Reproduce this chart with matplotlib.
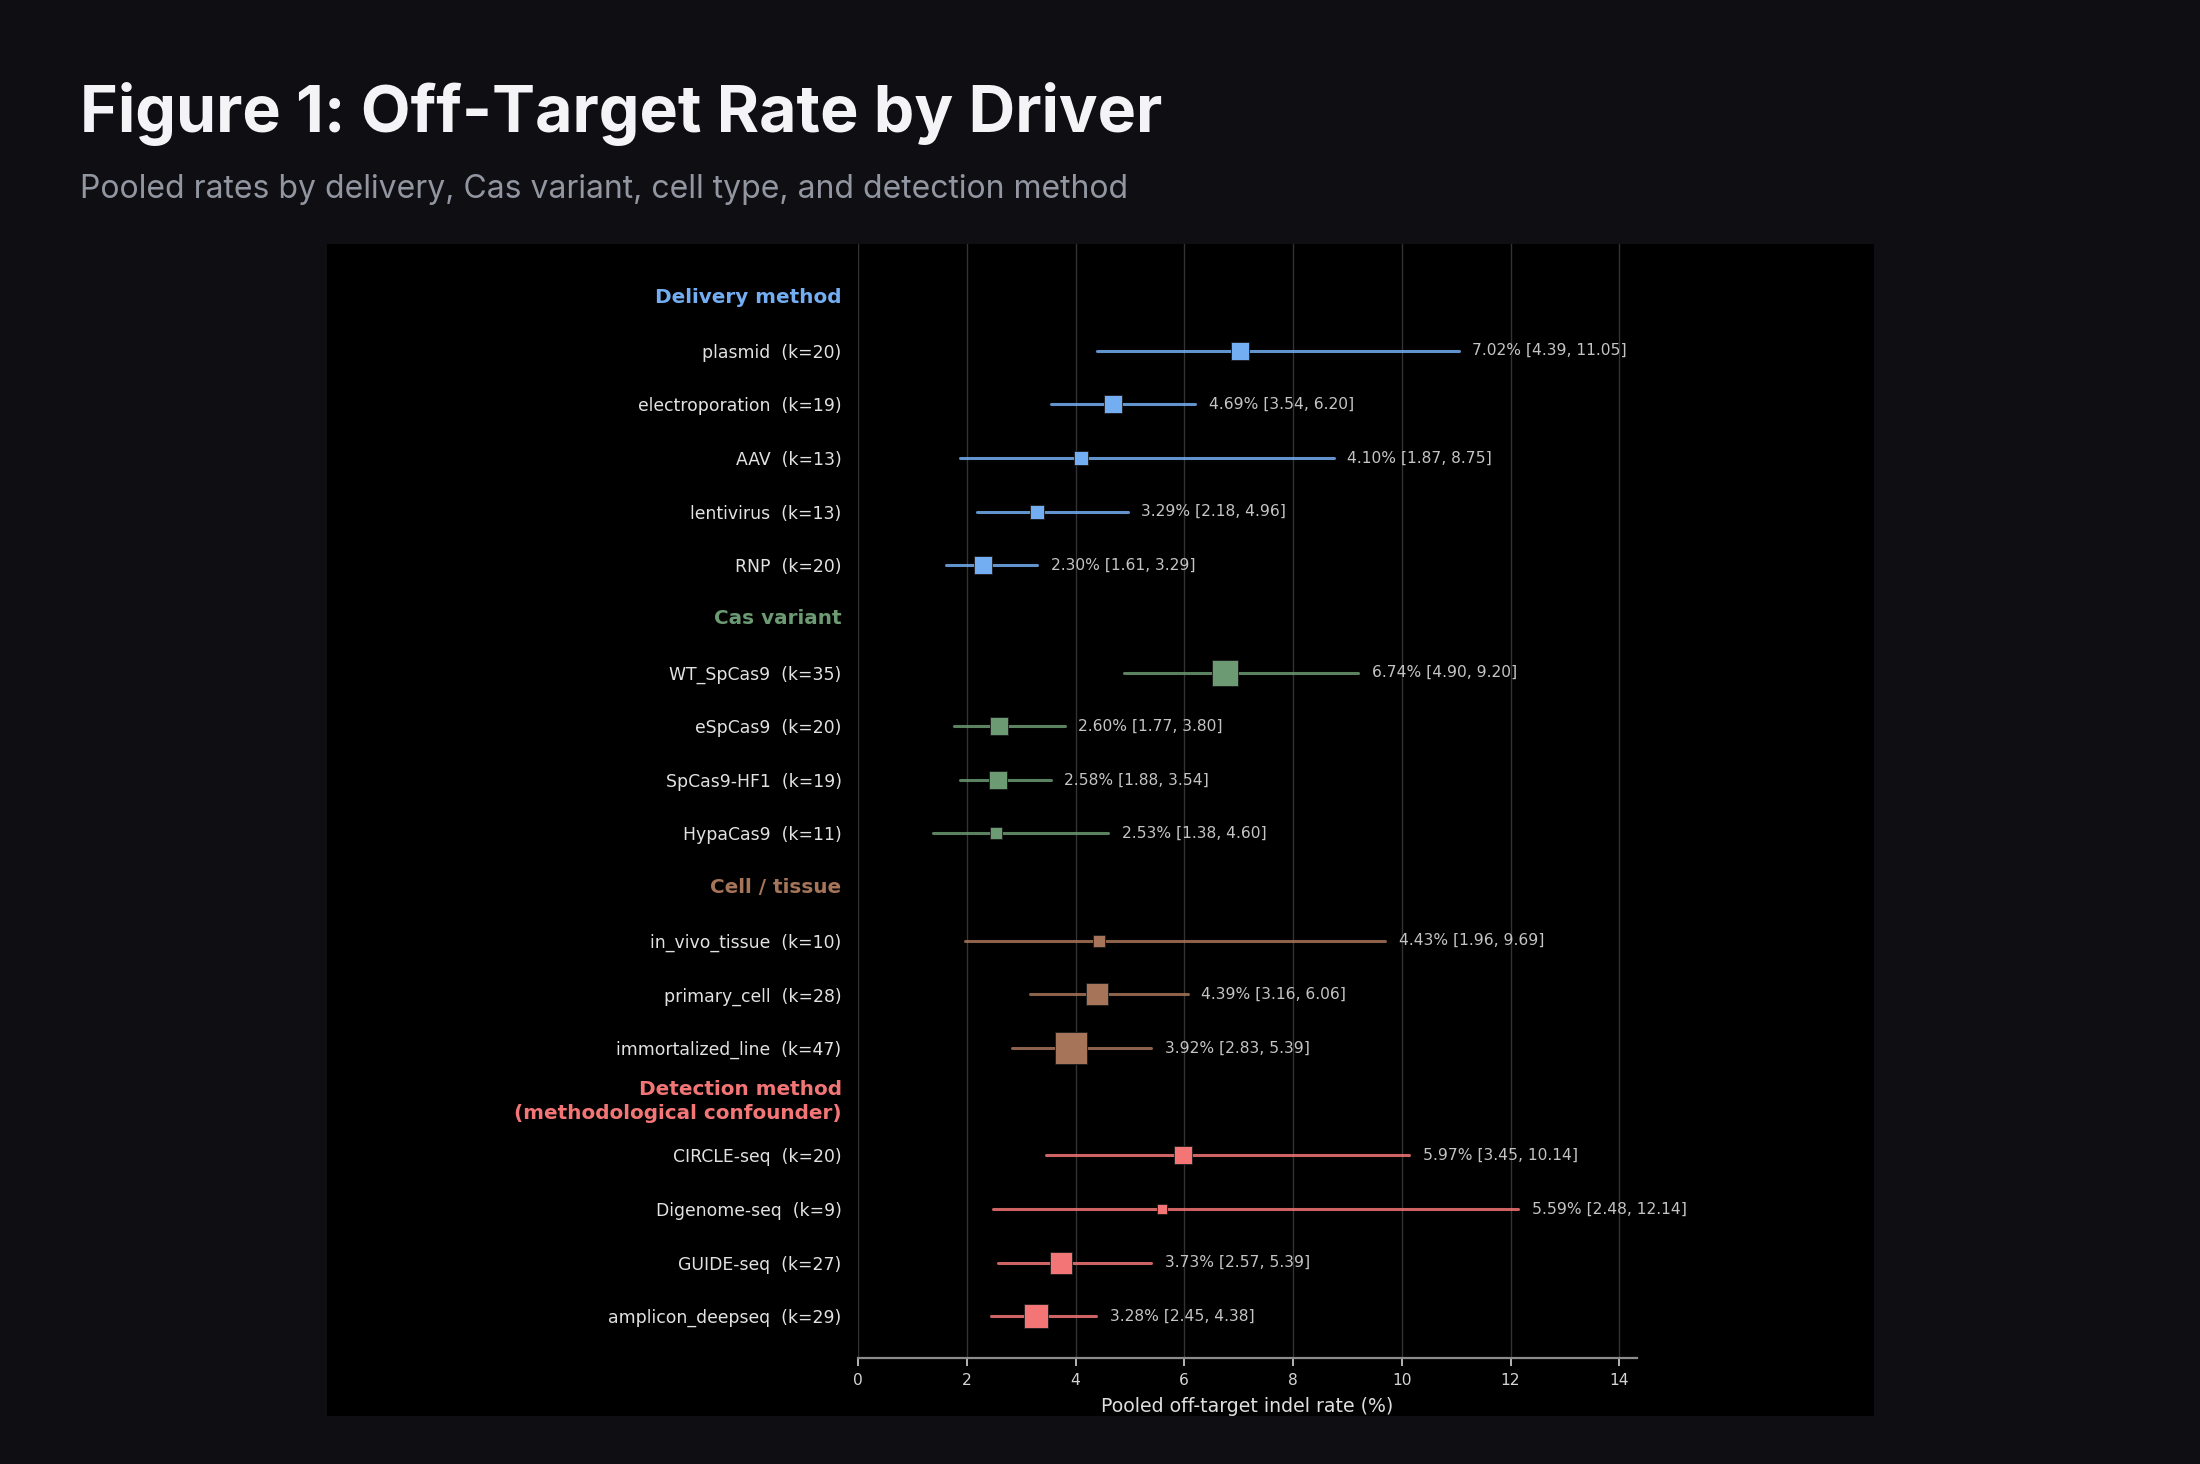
import matplotlib
matplotlib.use('Agg')
import matplotlib.pyplot as plt
from matplotlib.patches import Rectangle
from matplotlib.transforms import Bbox, TransformedBbox
import numpy as np

# ---------------- data ----------------
group_names = ["Delivery method", "Cas variant", "Cell / tissue",
               "Detection method\n(methodological confounder)"]
group_colors = ['#74aef2', '#6c9a72', '#a67459', '#f47575']

delivery_labels = ["plasmid", "electroporation", "AAV", "lentivirus", "RNP"]
delivery_k = [20, 19, 13, 13, 20]
delivery_est = [7.02, 4.69, 4.10, 3.29, 2.30]
delivery_lo = [4.39, 3.54, 1.87, 2.18, 1.61]
delivery_hi = [11.05, 6.20, 8.75, 4.96, 3.29]

cas_labels = ["WT_SpCas9", "eSpCas9", "SpCas9-HF1", "HypaCas9"]
cas_k = [35, 20, 19, 11]
cas_est = [6.74, 2.60, 2.58, 2.53]
cas_lo = [4.90, 1.77, 1.88, 1.38]
cas_hi = [9.20, 3.80, 3.54, 4.60]

cell_labels = ["in_vivo_tissue", "primary_cell", "immortalized_line"]
cell_k = [10, 28, 47]
cell_est = [4.43, 4.39, 3.92]
cell_lo = [1.96, 3.16, 2.83]
cell_hi = [9.69, 6.06, 5.39]

det_labels = ["CIRCLE-seq", "Digenome-seq", "GUIDE-seq", "amplicon_deepseq"]
det_k = [20, 9, 27, 29]
det_est = [5.97, 5.59, 3.73, 3.28]
det_lo = [3.45, 2.48, 2.57, 2.45]
det_hi = [10.14, 12.14, 5.39, 4.38]

x_ticks = [0, 2, 4, 6, 8, 10, 12, 14]
x_label = "Pooled off-target indel rate (%)"
title = "Figure 1: Off-Target Rate by Driver"
subtitle = "Pooled rates by delivery, Cas variant, cell type, and detection method"

groups = [
    (delivery_labels, delivery_k, delivery_est, delivery_lo, delivery_hi),
    (cas_labels, cas_k, cas_est, cas_lo, cas_hi),
    (cell_labels, cell_k, cell_est, cell_lo, cell_hi),
    (det_labels, det_k, det_est, det_lo, det_hi),
]

# ---------------- figure ----------------
W, H = 2200, 1464
BG = '#0e0e13'
fig = plt.figure(figsize=(W / 100, H / 100), dpi=100, facecolor=BG)

fig.text(80 / W, 1 - 132 / H, title, fontsize=46.5, fontweight='bold',
         family=['Inter', 'DejaVu Sans'], color='#f4f4f6', va='baseline', ha='left')
fig.text(80 / W, 1 - 198 / H, subtitle, fontsize=23.0,
         family=['Inter', 'DejaVu Sans'], color='#9296a1', va='baseline', ha='left')

# chart panel
px0, px1, py0, py1 = 327, 1874, 244, 1416
panel = Rectangle((px0 / W, 1 - py1 / H), (px1 - px0) / W, (py1 - py0) / H,
                  transform=fig.transFigure, facecolor='black', edgecolor='none', zorder=-5)
fig.patches.append(panel)

ax_l, ax_r, ax_t, ax_b = 858, 1637, 244, 1358
ax = fig.add_axes([ax_l / W, 1 - ax_b / H, (ax_r - ax_l) / W, (ax_b - ax_t) / H])
ax.set_zorder(1)
ax.set_facecolor('black')

all_hi = [h for g in groups for h in g[4]]
ax.set_xlim(0, max(all_hi) * 1.18)

ytick_pos, ytick_lab, ytick_style = [], [], []
row = 0
for gi, (labels, ks, est, lo, hi) in enumerate(groups):
    col = group_colors[gi]
    ytick_pos.append(row)
    ytick_lab.append(group_names[gi])
    ytick_style.append(('header', col))
    row += 1
    for name, k, e, l, h in zip(labels, ks, est, lo, hi):
        ax.hlines(row, l, h, color=col, alpha=0.85, lw=2.2, zorder=2, capstyle='round')
        side_px = max(5.4 * np.sqrt(k) - 5.8, 7.0)
        side_pt = side_px * 0.72
        ax.scatter([e], [row], marker='s', s=side_pt ** 2, color=col,
                   edgecolors='#1a1a1a', linewidths=0.6, zorder=3)
        ax.text(h + 0.25, row, f"{e:.2f}% [{l:.2f}, {h:.2f}]", fontsize=11.2,
                color='#c4c4c4', va='center', ha='left', zorder=4)
        ytick_pos.append(row)
        ytick_lab.append(f"{name}  (k={k})")
        ytick_style.append(('item', None))
        row += 1

ax.set_ylim(row - 1 + 0.78, -0.99)
ax.set_yticks(ytick_pos)
ax.set_yticklabels(ytick_lab)
for tl, (kind, col) in zip(ax.get_yticklabels(), ytick_style):
    if kind == 'header':
        tl.set_color(col)
        tl.set_fontweight('bold')
        tl.set_fontsize(14.4)
        tl.set_verticalalignment('center')
        tl.set_linespacing(1.3)
    else:
        tl.set_color('#e2e2e2')
        tl.set_fontsize(12.4)
ax.tick_params(axis='y', length=0, pad=11.8)

ax.set_xticks(x_ticks)
ax.tick_params(axis='x', colors='#d4d4d4', labelsize=11.2, length=6, width=1.2,
               pad=5)
for t in ax.xaxis.get_ticklines():
    t.set_color('#8c8c8c')

for s in ['left', 'top', 'right']:
    ax.spines[s].set_visible(False)
ax.spines['bottom'].set_color('#8c8c8c')
ax.spines['bottom'].set_linewidth(1.6)

ax.grid(axis='x', color='#333333', lw=1.0)
ax.set_axisbelow(True)

lab = ax.set_xlabel(x_label, fontsize=13.6, color='#dedede', labelpad=6)
clip = TransformedBbox(Bbox([[px0 / W, 1 - py1 / H], [px1 / W, 1 - py0 / H]]), fig.transFigure)
lab.set_clip_box(clip)
lab.set_clip_on(True)

fig.savefig('out.png', dpi=100, facecolor=BG)
